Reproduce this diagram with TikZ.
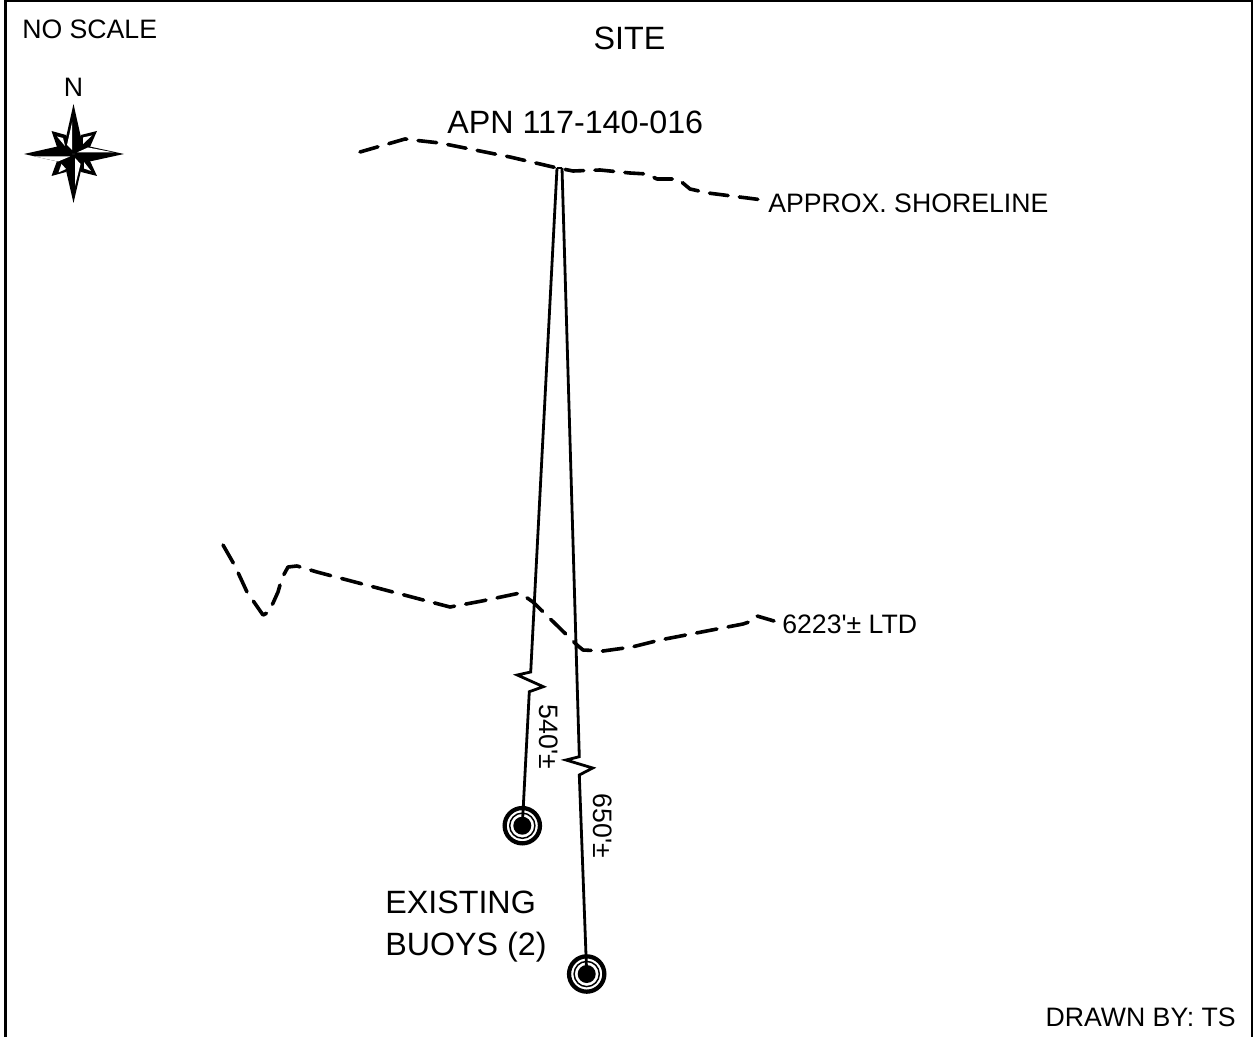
\documentclass[tikz,border=0pt]{standalone}
\usepackage{fontspec}
\setmainfont{Liberation Sans}[Ligatures=TeXOff]
\tikzset{
  x=0.75pt,y=-0.75pt,
  lab/.style={inner sep=0pt,font=\fontsize{20}{24}\selectfont,text=black},
  biglab/.style={inner sep=0pt,font=\fontsize{24.2}{31.5}\selectfont,text=black},
  contour/.style={line width=2.7pt,line cap=round,line join=round},
  shoreline/.style={contour,dash pattern=on 14pt off 8.5pt},
  depthline/.style={contour,dash pattern=on 15.5pt off 8.5pt},
  leader/.style={line width=2.1pt,line join=miter},
  buoy/.style={circle,draw=black,fill=white,line width=3.2pt,minimum size=26.5pt,inner sep=0pt},
  frameline/.style={line width=2.1pt}
}
\begin{document}
\begin{tikzpicture}
\useasboundingbox (0,0) rectangle (1256,1037);
\draw[frameline] (5.5,1037) -- (5.5,1) -- (1252,1) -- (1252,1037);
% labels
\node[lab,anchor=west] (noscale) at (22,29) {NO SCALE};
\node[biglab,anchor=center] (site) at (629.5,38) {SITE};
\node[lab,anchor=center] (north) at (73.5,87) {N};
\node[biglab,anchor=west] (apn) at (447,122) {APN 117-140-016};
\node[lab,anchor=west] (shore) at (768,203) {APPROX. SHORELINE};
\node[lab,anchor=west] (ltd) at (782,624) {6223'± LTD};
\node[biglab,anchor=west,align=left] (exist) at (385,927) {EXISTING\\BUOYS (2)};
\node[lab,anchor=east] (drawn) at (1236,1017) {DRAWN BY: TS};
% compass
\coordinate (c) at (73.5,154);
\fill (73.5,104) -- (82,142) -- (c) -- (65,142) -- cycle;
\fill (73.5,203) -- (82,166) -- (c) -- (65,166) -- cycle;
\fill (24,154) -- (62,145.5) -- (c) -- (62,162.5) -- cycle;
\fill (124,154) -- (85,145.5) -- (c) -- (85,162.5) -- cycle;
\fill (97,131) -- (81,135) -- (c) -- (90,147) -- cycle;
\fill (51.5,131) -- (66,135) -- (c) -- (57,147) -- cycle;
\fill (97,176) -- (81,172) -- (c) -- (90,161) -- cycle;
\fill (51.5,176) -- (66,172) -- (c) -- (57,161) -- cycle;
\fill[white] (72.2,122) -- (72.2,150) -- (67,145) -- cycle;
\fill[white] (77,152.5) -- (114,152.5) -- (88,147.5) -- cycle;
\fill[white] (70,156.5) -- (35,156.5) -- (58,161.5) -- cycle;
\fill[white] (75,158) -- (75,186) -- (80.5,164) -- cycle;
\fill[white] (83,144) -- (92,135.5) -- (83,137.5) -- cycle;
\fill[white] (65,146) -- (57,136.5) -- (63,138) -- cycle;
\fill[white] (84,162) -- (91,171) -- (84,168.5) -- cycle;
\fill[white] (66,169) -- (58.5,172.5) -- (61.5,164) -- cycle;
% dashed lines
\draw[shoreline] (360,152) -- (405,139) -- (413,140) -- (440,143) -- (490,153) -- (510,157)
  -- (553,167) -- (573,171) -- (600,170) -- (630,173) -- (647,174) -- (657,179)
  -- (678,179) -- (690,189) -- (708,193) -- (763,200);
\draw[depthline] (223,545) -- (235,566) -- (247,592) -- (263,615) -- (269,612) -- (278,592)
  -- (282,578) -- (288,567) -- (297,566) -- (317,572) -- (370,586) -- (427,601)
  -- (450,607) -- (482,601) -- (520,593) -- (533,602) -- (577,645) -- (583,650)
  -- (603,651) -- (632,647) -- (660,640) -- (743,624) -- (752,621) -- (757,616) -- (774,621);
% buoys
\node[buoy] (b1) at (522.3,825.7) {};
\node[buoy] (b2) at (586.7,974) {};
\foreach \n in {b1,b2}{
  \draw[line width=1.1pt] (\n) circle (12.6);
  \fill (\n) circle (9);
}
% leaders
\coordinate (top1) at (557,168);
\coordinate (top2) at (562,168);
\draw[leader] (top1) -- (530.7,672) -- (517.3,675) -- (543.3,686.7) -- (529.3,691.7) -- (b1.center);
\draw[leader] (top2) -- (579.3,756.7) -- (566,760) -- (592.7,768) -- (579.3,775) -- (b2.center);
\draw[leader] (top1) -- (top2);
% rotated dimensions
\node[lab,rotate=-90] (d540) at (549,737) {540'±};
\node[lab,rotate=-90] (d650) at (602.5,826) {650'±};
\end{tikzpicture}
\end{document}
